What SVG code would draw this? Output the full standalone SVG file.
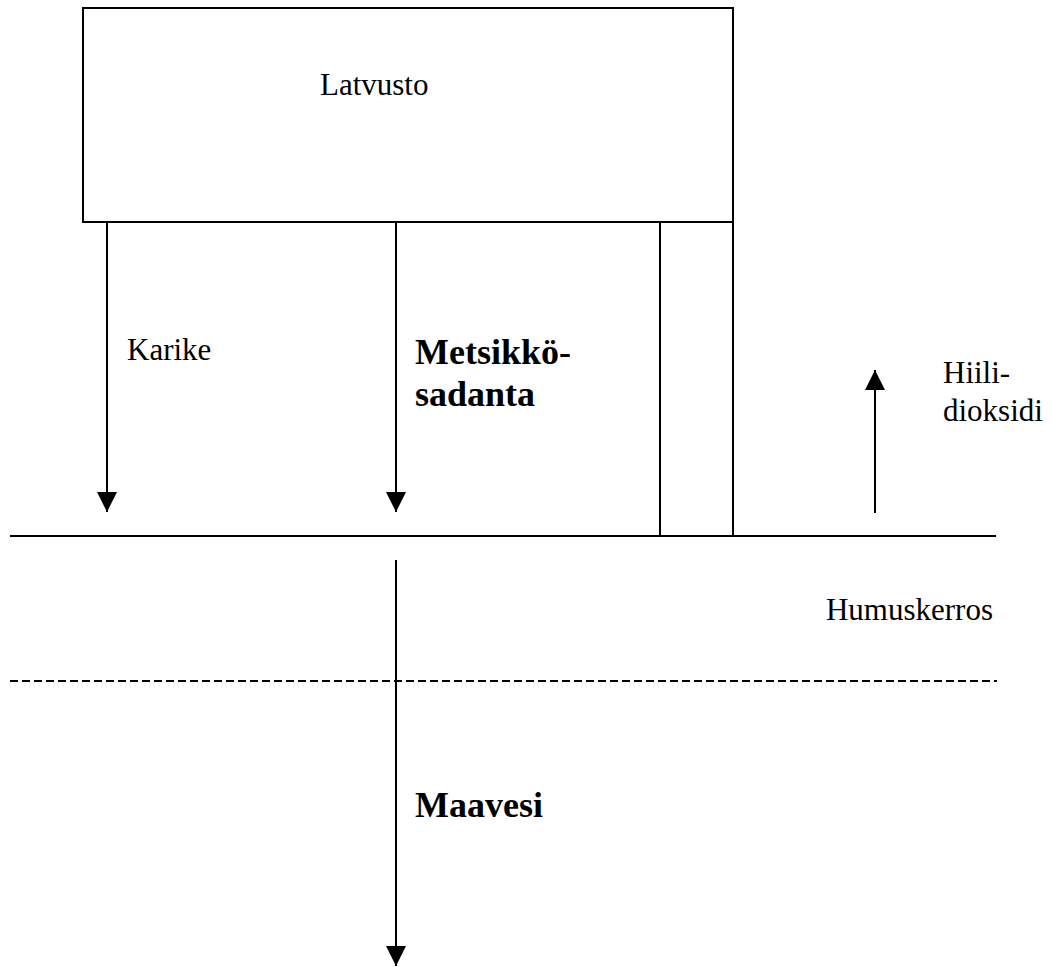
<svg xmlns="http://www.w3.org/2000/svg" width="1052" height="967" viewBox="0 0 1052 967">
<style>
.ln{stroke:#000;stroke-width:2;fill:none}
.t{font-family:"Liberation Serif","Times New Roman",serif;font-size:31px;fill:#000}
.b{font-family:"Liberation Serif","Times New Roman",serif;font-size:36px;font-weight:bold;fill:#000}
</style>
<defs>
<marker id="ah" markerWidth="20" markerHeight="20" refX="20" refY="10" orient="auto" markerUnits="userSpaceOnUse">
<path d="M0,0 L20,10 L0,20 Z" fill="#000"/>
</marker>
</defs>
<rect width="1052" height="967" fill="#fff"/>
<g id="latvusto">
<rect class="ln" x="83" y="8" width="650" height="214"/>
<text class="t" x="320" y="95">Latvusto</text>
</g>
<g id="runko">
<rect class="ln" x="660" y="222" width="73" height="314"/>
</g>
<g id="maanpinta">
<line class="ln" x1="10" y1="536" x2="996" y2="536"/>
</g>
<g id="humuskerros">
<line class="ln" x1="10" y1="681" x2="997" y2="681" stroke-dasharray="8,4"/>
<text class="t" x="993" y="620" text-anchor="end">Humuskerros</text>
</g>
<g id="connectors">
<line class="ln" x1="107" y1="222" x2="107" y2="512" marker-end="url(#ah)"/>
<line class="ln" x1="396" y1="222" x2="396" y2="512" marker-end="url(#ah)"/>
<line class="ln" x1="875" y1="513" x2="875" y2="370" marker-end="url(#ah)"/>
<line class="ln" x1="396" y1="560" x2="396" y2="966" marker-end="url(#ah)"/>
</g>
<g id="labels">
<text class="t" x="127" y="360">Karike</text>
<text class="b" x="415" y="364">Metsikkö-</text>
<text class="b" x="415" y="406">sadanta</text>
<text class="t" x="943" y="383">Hiili-</text>
<text class="t" x="943" y="421">dioksidi</text>
<text class="b" x="415" y="817">Maavesi</text>
</g>
</svg>
